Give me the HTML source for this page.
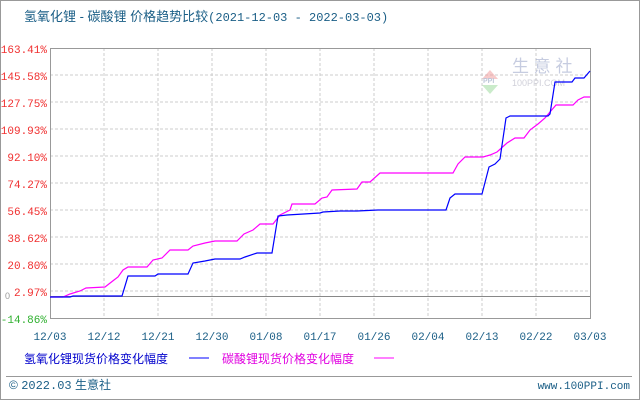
<!DOCTYPE html>
<html><head><meta charset="utf-8"><style>
html,body{margin:0;padding:0;background:#fff}
svg{display:block;font-family:"Liberation Sans","Noto Sans CJK SC",sans-serif}
</style></head><body>
<svg width="640" height="400" xmlns="http://www.w3.org/2000/svg">
<rect x="0.5" y="0.5" width="639" height="399" fill="#fff" stroke="#999"/>
<text x="24" y="21" font-size="13" fill="#1a5e86">氢氧化锂 - 碳酸锂 价格趋势比较<tspan font-family="Liberation Mono, monospace" font-size="12">(2021-12-03 - 2022-03-03)</tspan></text>
<g stroke="#ccc" stroke-dasharray="3,2" stroke-width="1">
<line x1="50" y1="75" x2="590" y2="75"/><line x1="50" y1="102" x2="590" y2="102"/>
<line x1="50" y1="129" x2="590" y2="129"/><line x1="50" y1="156" x2="590" y2="156"/>
<line x1="50" y1="183" x2="590" y2="183"/><line x1="50" y1="210" x2="590" y2="210"/>
<line x1="50" y1="237" x2="590" y2="237"/><line x1="50" y1="264" x2="590" y2="264"/>
<line x1="50" y1="291" x2="590" y2="291"/>
<line x1="104" y1="48" x2="104" y2="318"/><line x1="158" y1="48" x2="158" y2="318"/>
<line x1="212" y1="48" x2="212" y2="318"/><line x1="266" y1="48" x2="266" y2="318"/>
<line x1="320" y1="48" x2="320" y2="318"/><line x1="374" y1="48" x2="374" y2="318"/>
<line x1="428" y1="48" x2="428" y2="318"/><line x1="482" y1="48" x2="482" y2="318"/>
<line x1="536" y1="48" x2="536" y2="318"/>
</g>
<line x1="50" y1="296.5" x2="590" y2="296.5" stroke="#888"/>
<rect x="50.5" y="48.5" width="540" height="270" fill="none" stroke="#999"/>
<g opacity="0.55">
<polygon points="490,70 482,79 498,79" fill="#f2a0a0"/>
<polygon points="482,85 498,85 490,94" fill="#a0dca0"/>
<text x="483" y="83" font-size="7" fill="#8899bb" font-weight="bold">PPI</text>
<text x="512" y="72" font-size="17" fill="#99a3c8">生 意 社</text>
<text x="512" y="86" font-size="9" fill="#aab">100PPI.COM</text>
</g>
<polyline fill="none" stroke="#f0f" stroke-width="1.2" points="50,297 63,297 70,294 80,291 86,288 105,287 114,280 118,277 123,270 128,267 147,267 153,260 162,258 170,250 188,250 193,246 205,243 215,241 237,241 244,234 253,230 260,224 273,224 280,215 290,210 292,204 315,204 322,198 327,197 332,190 357,189 362,182 370,182 380,173 453,173 458,164 465,157 483,157 490,155 497,152 507,143 515,138 524,138 530,130 538,124 545,118 550,112 556,105 573,105 578,100 584,97 590,97"/>
<polyline fill="none" stroke="#00f" stroke-width="1.2" points="50,297 70,297 73,296 122,296 128,276 155,276 158,274 188,274 193,263 205,261 215,259 240,259 245,257 257,253 272,253 278,216 287,215 320,213 323,212 340,211 357,211 378,210 446,210 450,198 455,194 482,194 489,167 495,164 500,159 506,118 510,116 548,116 550,114 555,82 572,82 575,78 584,78 590,71"/>
<g font-family="Liberation Mono, monospace" font-size="11" text-anchor="end">
<text x="47" y="53" fill="#f03030">163.41%</text><text x="47" y="80" fill="#f03030">145.58%</text>
<text x="47" y="107" fill="#f03030">127.75%</text><text x="47" y="134" fill="#f03030">109.93%</text>
<text x="47" y="161" fill="#f03030">92.10%</text><text x="47" y="188" fill="#f03030">74.27%</text>
<text x="47" y="215" fill="#f03030">56.45%</text><text x="47" y="242" fill="#f03030">38.62%</text>
<text x="47" y="269" fill="#f03030">20.80%</text><text x="47" y="296" fill="#f03030">2.97%</text>
<text x="47" y="323" fill="#30b030">-14.86%</text>
</g>
<text x="5" y="299" font-size="9" fill="#999">0</text>
<g font-family="Liberation Mono, monospace" font-size="11" fill="#1a5e86" text-anchor="middle">
<text x="50" y="340">12/03</text><text x="104" y="340">12/12</text><text x="158" y="340">12/21</text>
<text x="212" y="340">12/30</text><text x="266" y="340">01/08</text><text x="320" y="340">01/17</text>
<text x="374" y="340">01/26</text><text x="428" y="340">02/04</text><text x="482" y="340">02/13</text>
<text x="536" y="340">02/22</text><text x="590" y="340">03/03</text>
</g>
<text x="24" y="363" font-size="12" fill="#0000cc">氢氧化锂现货价格变化幅度</text>
<line x1="189" y1="358" x2="209" y2="358" stroke="#00f"/>
<text x="222" y="363" font-size="12" fill="#e000e0">碳酸锂现货价格变化幅度</text>
<line x1="374" y1="358" x2="394" y2="358" stroke="#f0f"/>
<line x1="6" y1="376.5" x2="632" y2="376.5" stroke="#999"/>
<text x="9" y="389" font-size="12" fill="#1a5e86">© <tspan font-family="Liberation Mono, monospace">2022.03</tspan> 生意社</text>
<text x="630" y="389" font-size="11" fill="#1a5e86" text-anchor="end" font-family="Liberation Mono, monospace">www.100PPI.com</text>
</svg>
</body></html>
